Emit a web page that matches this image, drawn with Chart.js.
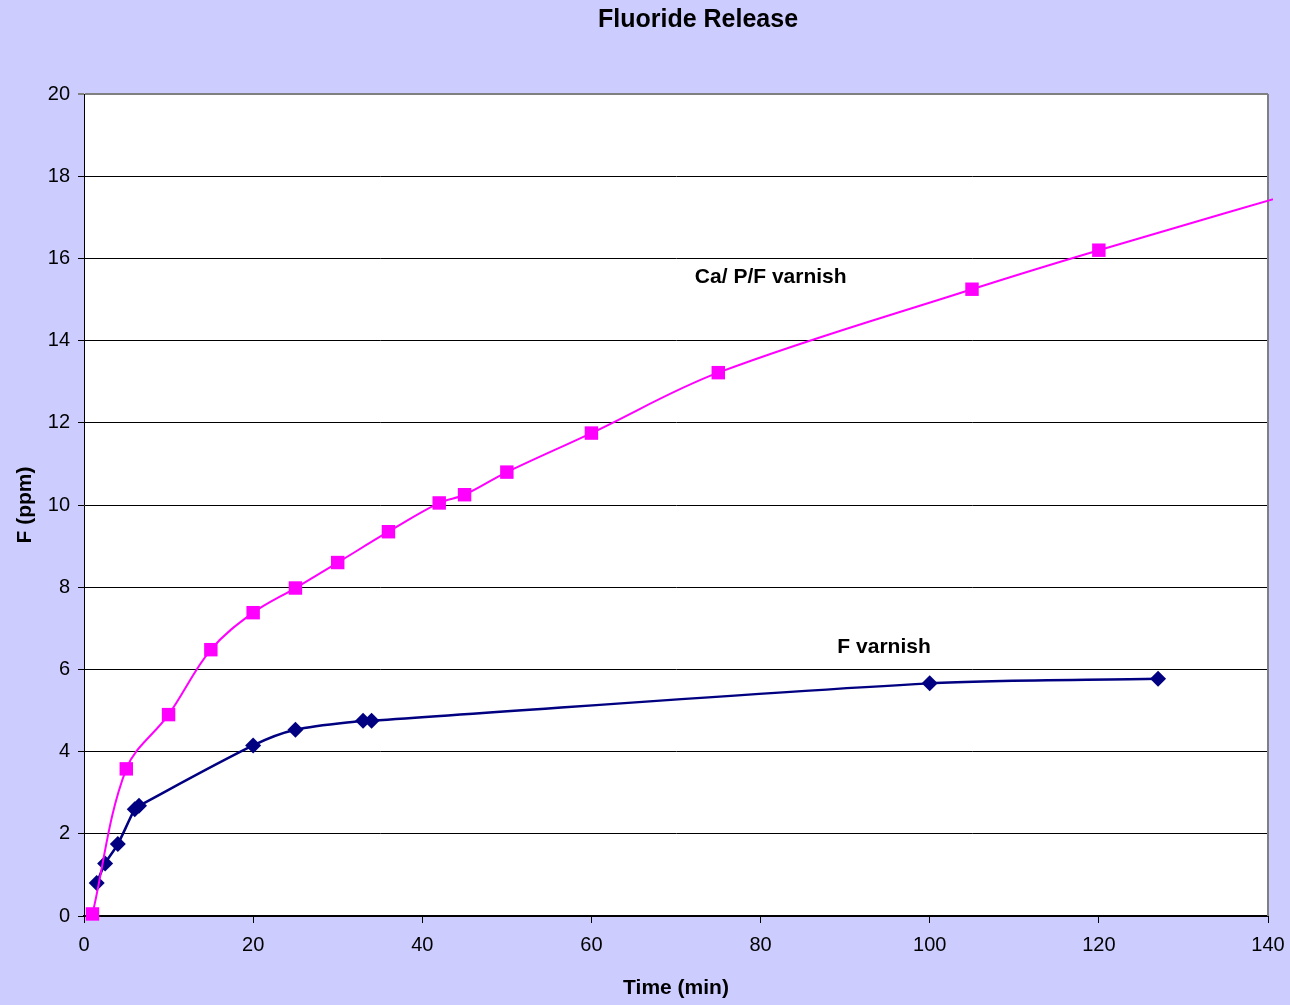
<!DOCTYPE html>
<html>
<head>
<meta charset="utf-8">
<title>Fluoride Release</title>
<script src="https://cdn.jsdelivr.net/npm/chart.js@4/dist/chart.umd.min.js"></script>
<style>
  html, body { margin: 0; padding: 0; background: #ccccff; }
  #wrap { width: 1290px; height: 1005px; }
</style>
</head>
<body>
<div id="wrap"><canvas id="grafico" width="1290" height="1005"></canvas></div>
<script>
// Dados
const caTime = [1, 5, 10, 15, 20, 25, 30, 36, 42, 45, 50, 60, 75, 105, 120, 150];
const caF    = [0.05, 3.58, 4.9, 6.48, 7.38, 7.98, 8.6, 9.35, 10.05, 10.25, 10.8, 11.75, 13.22, 15.25, 16.2, 18.0];

const fTime = [1.5, 2.5, 4, 6, 6.5, 20, 25, 33, 34, 100, 127];
const fF    = [0.8, 1.28, 1.75, 2.6, 2.68, 4.15, 4.53, 4.75, 4.75, 5.66, 5.77];

const xTicks = [0, 20, 40, 60, 80, 100, 120, 140];
const yTicks = [0, 2, 4, 6, 8, 10, 12, 14, 16, 18, 20];

// Rótulos das séries dentro do gráfico
const seriesLabels = ['Ca/ P/F varnish', 'F varnish'];
const labelAt = [[81.2, 15.55], [94.6, 6.53]];

const toPoints = (xs, ys) => xs.map((x, i) => ({ x: x, y: ys[i] }));

// Plugin simples para fundo branco, título, moldura direita e rótulos das séries
const extras = {
    id: 'extras',
    beforeDraw(chart) {
        const { ctx, chartArea } = chart;
        ctx.save();
        ctx.fillStyle = '#ffffff';
        ctx.fillRect(chartArea.left, chartArea.top, chartArea.right - chartArea.left, chartArea.bottom - chartArea.top);
        ctx.restore();
    },
    beforeDatasetsDraw(chart) {
        const { ctx, chartArea } = chart;
        ctx.save();
        ctx.strokeStyle = '#808080';
        ctx.lineWidth = 2;
        ctx.beginPath();
        ctx.moveTo(chartArea.right, chartArea.top);
        ctx.lineTo(chartArea.right, chartArea.bottom);
        ctx.stroke();
        ctx.restore();
    },
    afterDraw(chart) {
        const { ctx, scales } = chart;
        ctx.save();
        ctx.fillStyle = '#000';
        ctx.textAlign = 'center';
        ctx.textBaseline = 'middle';
        ctx.font = 'bold 25px "Liberation Sans", Arial, sans-serif';
        ctx.fillText('Fluoride Release', 698, 20);
        ctx.font = 'bold 21px "Liberation Sans", Arial, sans-serif';
        seriesLabels.forEach((txt, i) => {
            ctx.fillText(txt, scales.x.getPixelForValue(labelAt[i][0]), scales.y.getPixelForValue(labelAt[i][1]));
        });
        ctx.restore();
    }
};

const fonteTicks = { family: '"Liberation Sans", Arial, sans-serif', size: 20 };
const fonteTitulo = { family: '"Liberation Sans", Arial, sans-serif', size: 21, weight: 'bold' };

new Chart(document.getElementById('grafico').getContext('2d'), {
    type: 'line',
    data: {
        datasets: [
            {
                label: 'Ca/ P/F varnish',
                data: toPoints(caTime, caF),
                borderColor: '#ff00ff',
                backgroundColor: '#ff00ff',
                borderWidth: 2,
                tension: 0.35,
                pointStyle: 'rect',
                pointRadius: ctx => (ctx.raw && ctx.raw.x > 140 ? 0 : 9.5),
                pointBorderWidth: 0,
                clip: { left: 12, top: 12, right: 5, bottom: 12 }
            },
            {
                label: 'F varnish',
                data: toPoints(fTime, fF),
                borderColor: '#000080',
                backgroundColor: '#000080',
                borderWidth: 2.5,
                tension: 0.3,
                pointStyle: 'rectRot',
                pointRadius: 8,
                pointBorderWidth: 0,
                clip: 12
            }
        ]
    },
    options: {
        responsive: false,
        animation: false,
        layout: { padding: { top: 94, right: 22, left: 0, bottom: 0 } },
        plugins: {
            legend: { display: false },
            tooltip: { enabled: false }
        },
        scales: {
            x: {
                type: 'linear',
                min: 0,
                max: 140,
                afterBuildTicks: axis => { axis.ticks = xTicks.map(v => ({ value: v })); },
                afterFit: axis => {
                    axis.height = 89;
                    axis.paddingLeft = 0;
                    axis.paddingRight = 0;
                },
                ticks: { color: '#000', font: fonteTicks, padding: 10, maxRotation: 0 },
                grid: { drawOnChartArea: false, color: '#000', tickLength: 7 },
                border: { color: '#000', width: 2 },
                title: { display: true, text: 'Time (min)', color: '#000', font: fonteTitulo, padding: { top: 0, bottom: 4 } }
            },
            y: {
                min: 0,
                max: 20,
                afterBuildTicks: axis => { axis.ticks = yTicks.map(v => ({ value: v })); },
                afterFit: axis => { axis.width = 84; },
                ticks: { color: '#000', font: fonteTicks, padding: 8 },
                grid: {
                    color: ctx => (ctx.tick && ctx.tick.value === 20 ? '#808080' : '#000'),
                    lineWidth: ctx => (ctx.tick && ctx.tick.value === 20 ? 2 : 1),
                    tickLength: 6
                },
                border: { color: '#000', width: 1 },
                title: { display: true, text: 'F (ppm)', color: '#000', font: fonteTitulo, padding: { top: 13, bottom: 0 } }
            }
        }
    },
    plugins: [extras]
});
</script>
</body>
</html>
